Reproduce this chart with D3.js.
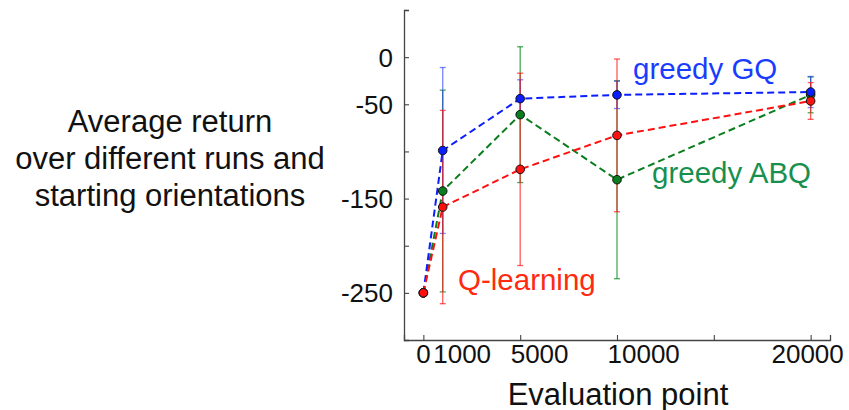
<!DOCTYPE html>
<html>
<head>
<meta charset="utf-8">
<script src="https://cdn.jsdelivr.net/npm/d3@7"></script>
<style>
  html, body { margin: 0; padding: 0; background: #fff; }
  svg { display: block; font-family: "Liberation Sans", Arial, Helvetica, sans-serif; }
</style>
</head>
<body>
<svg id="chart" width="849" height="410"></svg>
<script>
// Evaluation points (training steps)
const steps = [0, 1000, 5000, 10000, 20000];

// Average return and error-bar half widths per method
const gqMean  = [-250, -99, -44, -40, -37];
const gqErr   = [0, 88, 20, 14.5, 16.5];
const abqMean = [-250, -142, -61, -130, -40];
const abqErr  = [0, 107, 72, 105, 19];
const qlMean  = [-250, -159, -119, -83, -46.5];
const qlErr   = [0, 102.5, 102, 81, 19.5];

// Axis ticks and labels
const xTickMarks  = [0, 5000, 10000, 15000, 20000];
const xTickLabels = ["0", "1000", "5000", "10000", "20000"];
const yTickMarks  = [50, 0, -50, -100, -150, -200, -250];
const yTickLabels = ["0", "-50", "-150", "-250"];

const yTitleLines = ["Average return", "over different runs and", "starting orientations"];
const xTitle = "Evaluation point";

const series = [
  { name: "greedy ABQ", mean: abqMean, err: abqErr, line: "#0a7d1e", label: "#17904f", bar: "rgba(10,140,30,0.75)" },
  { name: "greedy GQ",  mean: gqMean,  err: gqErr,  line: "#0a1eff", label: "#1a3cff", bar: "rgba(30,50,255,0.6)" },
  { name: "Q-learning", mean: qlMean,  err: qlErr,  line: "#ff1010", label: "#ff2a10", bar: "rgba(255,20,20,0.7)" }
];

const svg = d3.select("#chart");
const x = d3.scaleLinear().domain([-1000, 21000]).range([404, 830]);
const y = d3.scaleLinear().domain([-300, 50]).range([340, 10]);

// Axes: ticks point inward
const axisColor = "#444";
const yAxis = svg.append("g").attr("transform", `translate(${x(-1000)},0)`)
  .call(d3.axisRight(y).tickValues(yTickMarks).tickSize(5).tickFormat(""));
const xAxis = svg.append("g").attr("transform", `translate(0,${y(-300)})`)
  .call(d3.axisTop(x).tickValues(xTickMarks).tickSize(5).tickFormat(""));
[yAxis, xAxis].forEach(g => {
  g.select(".domain").attr("stroke", axisColor).attr("stroke-width", 1.3);
  g.selectAll(".tick line").attr("stroke", axisColor).attr("stroke-width", 1.1);
});

// Y tick labels
svg.append("g").selectAll("text").data(yTickLabels).join("text")
  .attr("x", 393).attr("y", d => y(+d)).attr("dy", "0.36em")
  .attr("text-anchor", "end").attr("font-size", 26).attr("fill", "#111")
  .text(d => d);

// X tick labels
svg.append("g").selectAll("text").data(xTickLabels).join("text")
  .attr("x", d => {
    const v = +d;
    if (v === 0) return x(v);
    if (v === 20000) return x(v) - 3;
    return x(v) - 9.5;
  })
  .attr("y", 363)
  .attr("text-anchor", d => (+d === 0 || +d === 20000) ? "middle" : "start")
  .attr("font-size", 26).attr("fill", "#111")
  .text(d => d);

// Axis titles
svg.append("text").attr("x", 618).attr("y", 405).attr("text-anchor", "middle")
  .attr("font-size", 31).attr("fill", "#111").text(xTitle);
svg.append("g").selectAll("text").data(yTitleLines).join("text")
  .attr("x", 170).attr("y", (d, i) => 131.5 + i * 37)
  .attr("text-anchor", "middle").attr("font-size", 31).attr("fill", "#111")
  .text(d => d);

const plot = svg.append("g");

// Error bars
series.forEach(s => {
  const g = plot.append("g");
  steps.forEach((st, i) => {
    if (!s.err[i]) return;
    const cx = x(st), top = y(s.mean[i] + s.err[i]), bot = y(s.mean[i] - s.err[i]);
    g.append("line").attr("x1", cx).attr("x2", cx).attr("y1", top).attr("y2", bot)
      .attr("stroke", s.bar).attr("stroke-width", 1.3);
    [top, bot].forEach(yy => g.append("line")
      .attr("x1", cx - 3).attr("x2", cx + 3).attr("y1", yy).attr("y2", yy)
      .attr("stroke", s.bar).attr("stroke-width", 1.3));
  });
});

// Dashed lines
const lineGen = d3.line().x((d, i) => x(steps[i])).y(d => y(d));
series.forEach(s => {
  plot.append("path").datum(s.mean).attr("d", lineGen)
    .attr("fill", "none").attr("stroke", s.line).attr("stroke-width", 2)
    .attr("stroke-dasharray", "7,4");
});

// Markers
series.forEach(s => {
  plot.append("g").selectAll("circle").data(s.mean).join("circle")
    .attr("cx", (d, i) => x(steps[i])).attr("cy", d => y(d)).attr("r", 4.3)
    .attr("fill", s.line).attr("stroke", "#111").attr("stroke-width", 1);
});

// Series labels
const labelPos = { "greedy GQ": [633, 79], "greedy ABQ": [652, 183], "Q-learning": [458, 290] };
series.forEach(s => {
  svg.append("text").attr("x", labelPos[s.name][0]).attr("y", labelPos[s.name][1])
    .attr("font-size", 29.5).attr("fill", s.label).text(s.name);
});
</script>
</body>
</html>
